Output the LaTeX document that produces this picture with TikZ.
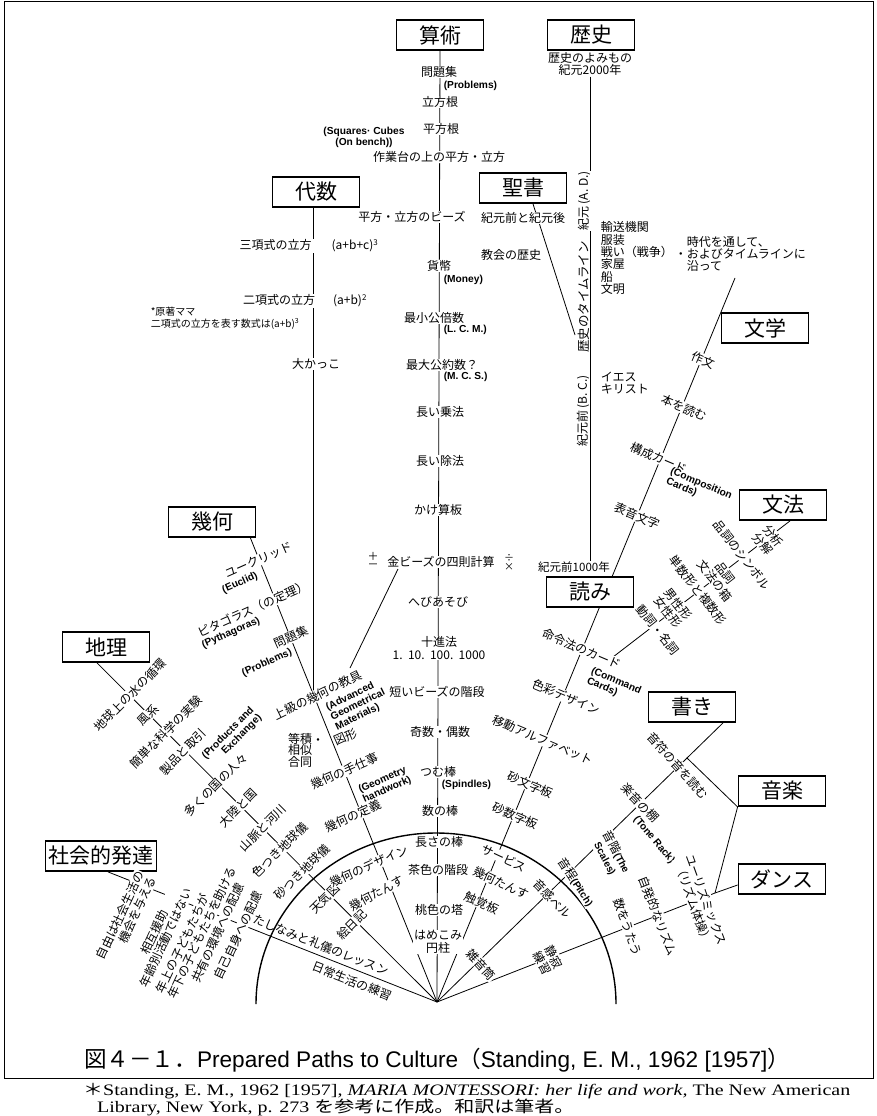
\documentclass[tikz,border=0pt]{standalone}
\usepackage{fontspec}
\setmainfont{Noto Sans CJK JP}
\newfontfamily\jp{Noto Sans CJK JP}
\newfontfamily\en{Liberation Sans}
\newfontfamily\ser{Liberation Serif}
\usetikzlibrary{calc}
\pgfdeclarelayer{back}
\pgfsetlayers{back,main}
\begin{document}
\begin{tikzpicture}[x=1pt,y=-1pt,
  box/.style={draw,line width=1.8pt,fill=white,minimum width=87pt,minimum height=30pt,inner sep=3pt,font=\jp\fontsize{21}{22}\selectfont},
  ln/.style={line width=0.8pt},
  lab/.style={fill=white,inner sep=0.6pt,font=\jp\fontsize{12}{13}\selectfont,align=center},
  enl/.style={fill=white,inner sep=0.6pt,font=\en\bfseries\fontsize{10.2}{10.8}\selectfont,align=left},
  sm/.style={inner sep=0.6pt,font=\jp\fontsize{10}{12}\selectfont,align=left},
]
\useasboundingbox (0,0) rectangle (877,1116);
\draw[line width=1pt] (4,2) rectangle (873,1078);

% ---------- title boxes
\node[box] (sanjutsu) at (440,35) {算術};
\node[box] (rekishi) at (591,35) {歴史};
\node[box] (daisu) at (316,192) {代数};
\node[box] (seisho) at (523,188) {聖書};
\node[box] (bungaku) at (765,328) {文学};
\node[box] (bunpo) at (783,505) {文法};
\node[box] (yomi) at (590,592) {読み};
\node[box] (kika) at (212,522) {幾何};
\node[box] (chiri) at (106,647) {地理};
\node[box] (kaki) at (692,707) {書き};
\node[box] (ongaku) at (782,791) {音楽};
\node[box] (dance) at (782,879) {ダンス};
\node[box] (shakai) at (101,856) {社会的発達};

% ---------- arithmetic column
\node[lab] (s1) at (439,72) {問題集};
\node[enl,anchor=west] (s2) at (443,86) {(Problems)};
\node[lab] (s3) at (440,102) {立方根};
\node[lab] (s4) at (441,129) {平方根};
\node[enl,align=center,fill=none] (s5) at (364,137) {(Squares· Cubes\\(On bench))};
\node[lab] (s6) at (439,157) {作業台の上の平方・立方};
\node[lab] (s7) at (412,217) {平方・立方のビーズ};
\node[lab] (s8) at (439,266) {貨幣};
\node[enl,anchor=west] (s9) at (443,280) {(Money)};
\node[lab] (s10) at (434,318) {最小公倍数};
\node[enl,anchor=west] (s11) at (443,330) {(L. C. M.)};
\node[lab] (s12) at (442,365) {最大公約数？};
\node[enl,anchor=west] (s13) at (443,377) {(M. C. S.)};
\node[lab] (s14) at (440,412) {長い乗法};
\node[lab] (s15) at (440,461) {長い除法};
\node[lab] (s16) at (438,510) {かけ算板};
\node[lab] (s17) at (441,562) {金ビーズの四則計算};
\node[lab,font=\jp\fontsize{11}{8}\selectfont] (s18) at (373,560) {＋\\－};
\node[lab,font=\jp\fontsize{10}{9}\selectfont] (s19) at (509,562) {÷\\×};
\node[lab] (s20) at (438,602) {へびあそび};
\node[lab] (s21) at (439,648) {十進法\\1.\ \ 10.\ \ 100.\ \ 1000};
\node[lab] (s22) at (437,692) {短いビーズの階段};
\node[lab] (s23) at (440,732) {奇数・偶数};
\node[lab] (s24) at (438,772) {つむ棒};
\node[enl,anchor=west] (s25) at (441,785) {(Spindles)};
\node[lab] (s26) at (440,811) {数の棒};
\node[lab] (s27) at (439,842) {長さの棒};
\node[lab] (s28) at (438,870) {茶色の階段};
\node[lab] (s29) at (439,910) {桃色の塔};
\node[lab] (s30) at (438,942) {はめこみ\\円柱};

% ---------- algebra column
\node[lab] (d1) at (309,246) {三項式の立方\hspace{20pt}(a+b+c)\textsuperscript{3}};
\node[lab] (d2) at (305,301) {二項式の立方\hspace{18pt}(a+b)\textsuperscript{2}};
\node[sm,anchor=north west] (d3) at (150,306) {*原著ママ\\二項式の立方を表す数式は(a+b)\textsuperscript{3}};
\node[lab] (d4) at (316,364) {大かっこ};

% ---------- history
\node[lab,font=\jp\fontsize{12}{12.5}\selectfont] (rksub) at (590,64) {歴史のよみもの\\紀元2000年};
\node[lab,font=\jp\fontsize{11.5}{12}\selectfont] (bc1000) at (574,567) {紀元前1000年};
\node[lab,rotate=90,font=\jp\fontsize{12}{13}\selectfont] (ad) at (584,201) {紀元 (A. D.)};
\node[lab,rotate=90,font=\jp\fontsize{12.5}{13}\selectfont] (tln) at (584,297) {歴史のタイムライン};
\node[lab,rotate=90,font=\jp\fontsize{12}{13}\selectfont] (bc) at (583,411) {紀元前 (B. C.)};
\node[lab] (b1) at (523,218) {紀元前と紀元後};
\node[lab] (b2) at (511,255) {教会の歴史};
\node[lab,anchor=north west,align=left,font=\jp\fontsize{12}{12.3}\selectfont] (b3) at (600,221) {輸送機関\\服装\\戦い（戦争）\\家屋\\船\\文明};
\node[lab,anchor=north west,align=left,font=\jp\fontsize{12}{12}\selectfont] (b4) at (686,236) {時代を通して、\\\llap{・}およびタイムラインに\\沿って};
\node[lab,anchor=west,align=left,font=\jp\fontsize{12}{12}\selectfont] (b5) at (600,383) {イエス\\キリスト};

% ---------- literature / reading ray
\node[lab,rotate=-23] (l1) at (703,360) {作文};
\node[lab,rotate=-23] (l2) at (684,408) {本を読む};
\node[lab,rotate=-23] (l3) at (659,458) {構成カード};
\node[enl,rotate=-23] (l4) at (699,489) {(Composition\\Cards)};
\node[lab,rotate=-23] (l5) at (637,516) {表音文字};
\node[lab,rotate=-23] (l6) at (582,649) {命令法のカード};
\node[enl,rotate=-23] (l7) at (614,686) {(Command\\Cards)};
\node[lab,rotate=-23] (l8) at (566,697) {色彩デザイン};
\node[lab,rotate=-23] (l9) at (543,740) {移動アルファベット};
\node[lab,rotate=-23] (l10) at (530,785) {砂文字板};
\node[lab,rotate=-23] (l11) at (515,816) {砂数字板};
\node[lab,rotate=-25] (l12) at (504,858) {サービス};
\node[lab,rotate=-25] (l13) at (501,883) {幾何たんす};
\node[lab,rotate=-25] (l14) at (482,903) {触覚板};

% ---------- grammar
\node[lab,rotate=-52] (g1) at (768,540) {分析\\分解};
\node[lab,rotate=-52] (g2) at (742,555) {品詞のシンボル};
\node[lab,rotate=-52] (g3) at (720,577) {品詞\\文法の箱};
\node[lab,rotate=-52] (g4) at (698,590) {単数形と複数形};
\node[lab,rotate=-52] (g5) at (673,608) {男性形\\女性形};
\node[lab,rotate=-52] (g6) at (658,630) {動詞・名詞};

% ---------- writing / music / dance
\node[lab,rotate=-48] (m1) at (678,766) {音符の音を読む};
\node[lab,rotate=-46] (m2) at (640,803) {楽音の棚};
\node[enl,rotate=-50] (m3) at (654,840) {(Tone Rack)};
\node[lab,rotate=-62,align=left] (m4) at (611,855) {音階{\en\bfseries\fontsize{10}{10.5}\selectfont (The}\\{\en\bfseries\fontsize{10}{10.5}\selectfont\ \ Scales)}};
\node[lab,rotate=-57] (m5) at (576,882) {音程{\en\bfseries\fontsize{10}{10.5}\selectfont (Pitch)}};
\node[lab,rotate=-46] (m6) at (552,899) {音感ベル};
\node[lab,rotate=-47] (m7) at (481,965) {雑音筒};
\node[lab,rotate=-62] (n1) at (548,960) {静寂\\練習};
\node[lab,rotate=-70] (n2) at (628,927) {数をうたう};
\node[lab,rotate=-69] (n3) at (658,916) {自発的なリズム};
\node[lab,rotate=-70] (n4) at (700,902) {ユーリズミックス\\（リズム体操）};

% ---------- geography
\node[lab,rotate=45] (c1) at (130,695) {地球上の水の循環};
\node[lab,rotate=45] (c2) at (148,715) {風系};
\node[lab,rotate=45] (c3) at (166,732) {簡単な科学の実験};
\node[lab,rotate=45] (c4) at (183,752) {製品と取引};
\node[enl,rotate=45,align=right] (c5) at (232,737) {(Products and\\Exchange)};
\node[lab,rotate=45] (c6) at (216,785) {多くの国の人々};
\node[lab,rotate=45] (c7) at (238,808) {大陸と国};
\node[lab,rotate=45] (c8) at (263,828) {山脈と河川};
\node[lab,rotate=45] (c9) at (280,850) {色つき地球儀};
\node[lab,rotate=45] (c10) at (302,872) {砂つき地球儀};
\node[lab,rotate=45] (c11) at (325,899) {天気図};
\node[lab,rotate=45] (c12) at (352,925) {絵日記};

% ---------- geometry
\node[lab,rotate=24] (k1) at (259,560) {ユークリッド};
\node[enl,rotate=24] (k2) at (240,583) {(Euclid)};
\node[lab,rotate=24] (k3) at (253,609) {ピタゴラス（の定理）};
\node[enl,rotate=24] (k4) at (231,633) {(Pythagoras)};
\node[lab,rotate=24] (k5) at (291,637) {問題集};
\node[enl,rotate=24] (k6) at (267,663) {(Problems)};
\node[lab,rotate=26] (k7) at (318,695) {上級の幾何の教具};
\node[enl,rotate=26] (k8) at (358,705) {(Advanced\\Geometrical\\Materials)};
\node[lab,font=\jp\fontsize{12}{11.5}\selectfont] (k9) at (300,750) {等積\\相似\\合同};
\node[lab,fill=none] (k10) at (318,742) {・};
\node[lab,rotate=24] (k11) at (346,737) {図形};
\node[lab,rotate=24] (k12) at (345,771) {幾何の手仕事};
\node[enl,rotate=24] (k13) at (385,785) {(Geometry\\handwork)};
\node[lab,rotate=24] (k14) at (353,816) {幾何の定義};
\node[lab,rotate=24] (k15) at (369,866) {幾何のデザイン};
\node[lab,rotate=28] (k16) at (377,893) {幾何たんす};

% ---------- social development
\node[lab,rotate=65,align=right] (h1) at (126,918) {自由は社会生活の\\機会を与える};
\node[lab,rotate=65] (h2) at (160,935) {相互援助\\年齢別活動ではない};
\node[lab,rotate=65,align=left] (h3) at (196,930) {年上の子どもたちが\\年下の子どもたちを助ける};
\node[lab,rotate=65] (h4) at (218,933) {共有の環境への配慮};
\node[lab,rotate=65] (h5) at (238,935) {自己自身への配慮};
\node[lab,rotate=-21.5,fill=none] (h6) at (321,945) {たしなみと礼儀のレッスン};
\node[lab,rotate=-21.5,fill=none] (h7) at (352,981) {日常生活の練習};

% ---------- caption and note
\node (cap) at (437,1060) {{\jp\fontsize{22.6}{23}\selectfont 図４－１．}{\en\fontsize{22.6}{23}\selectfont Prepared Paths to Culture}{\jp\fontsize{22.6}{23}\selectfont （}{\en\fontsize{22.6}{23}\selectfont Standing, E. M., 1962 [1957]}{\jp\fontsize{22.6}{23}\selectfont ）}};
\node[anchor=west,inner sep=0pt] (fn1) at (83,1091) {\scalebox{1.25}[1]{\ser\fontsize{16}{17}\selectfont{\jp ＊}Standing, E. M., 1962 [1957], \textit{MARIA MONTESSORI: her life and work,} The New American}};
\node[anchor=west,inner sep=0pt] (fn2) at (97,1107) {\scalebox{1.25}[1]{\ser\fontsize{16}{17}\selectfont Library, New York, p. 273 {\jp を参考に作成。和訳は筆者。}}};

% ---------- connectors
\coordinate (apex) at (437,1002);
\coordinate (arcc) at (436,1004);
\coordinate (algj) at (313,694);
\coordinate (tlend) at (575,335);
\coordinate (litend) at (735,278);
\coordinate (bpend) at (613,657);
\coordinate (mj) at (687,758);
\coordinate (dj) at (715,893);
\coordinate (gA) at (350,668);
\coordinate (gB) at (398,569);
\begin{pgfonlayer}{back}
\draw[ln] (sanjutsu.south) -- (apex);
\draw[ln] ([xshift=-3pt]daisu.south) -- (algj);
\draw[ln] ([xshift=-6pt]kika.south east) -- (apex);
\draw[ln] (gA) -- (gB);
\draw[ln] (rksub.south) -- (rksub.south |- bc1000.north);
\draw[ln] ([xshift=10pt]seisho.south) -- (tlend);
\draw[ln] (apex) -- (litend);
\draw[ln] ([xshift=7pt]bunpo.south) -- (bpend);
\draw[ln] ([xshift=-9pt]chiri.south) -- (apex);
\draw[ln] ([xshift=7pt]shakai.south) -- (apex);
\draw[ln] (apex) -- (mj);
\draw[ln] ([xshift=31pt]kaki.south) -- (mj) -- (ongaku.south west);
\draw[ln] (apex) -- (dj) -- ([yshift=-6pt]dance.west);
\draw[ln] (ongaku.south west) -- (dj);
\draw[line width=1.4pt] ($(arcc)+(180,0)$) arc[start angle=0,end angle=-180,x radius=180,y radius=171];
\end{pgfonlayer}
\end{tikzpicture}
\end{document}
